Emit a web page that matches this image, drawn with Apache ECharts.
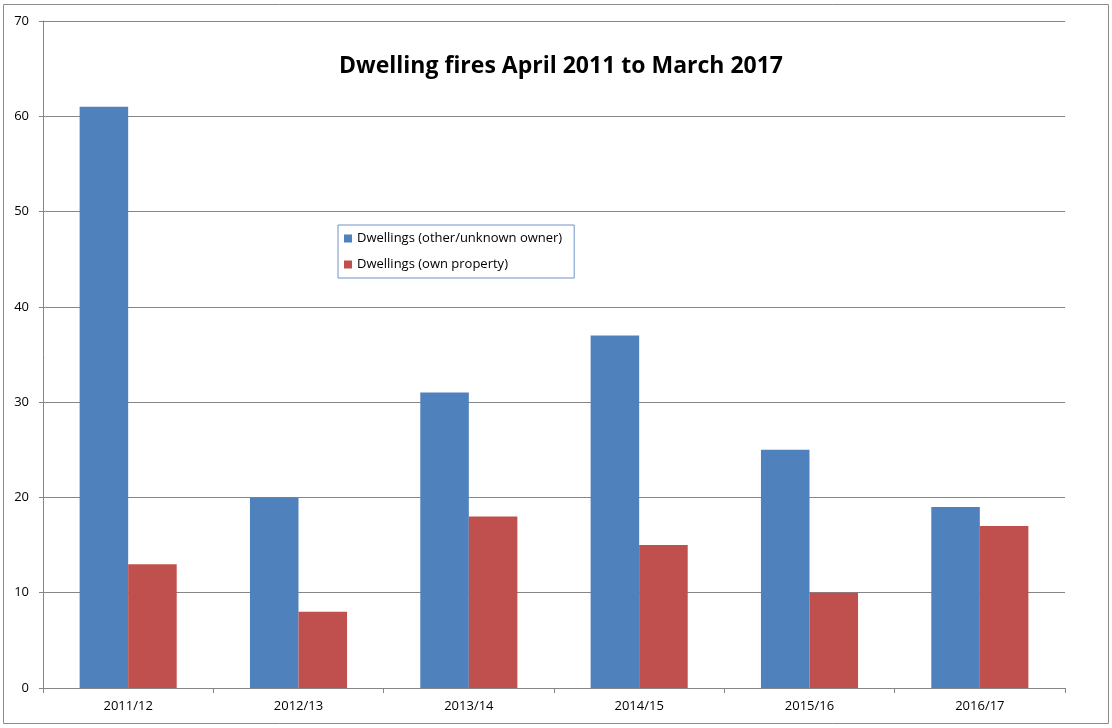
<!DOCTYPE html>
<html><head><meta charset="utf-8">
<script src="https://cdn.jsdelivr.net/npm/echarts@6/dist/echarts.min.js"></script>
<style>html,body{margin:0;padding:0;background:#fff}#c{width:1112px;height:728px}</style>
</head><body><div id="c"></div>
<script>
const categories = ['2011/12','2012/13','2013/14','2014/15','2015/16','2016/17'];
const otherOwner = [61, 20, 31, 37, 25, 19];
const ownProperty = [13, 8, 18, 15, 10, 17];
const seriesNames = ['Dwellings (other/unknown owner)', 'Dwellings (own property)'];
const titleText = 'Dwelling fires April 2011 to March 2017';

const font = '"Open Sans", "Liberation Sans", sans-serif';
const chart = echarts.init(document.getElementById('c'));
chart.setOption({
  animation: false,
  backgroundColor: '#fff',
  textStyle: { fontFamily: font },
  title: { text: titleText, left: 556, textAlign: 'center', top: 50,
    textStyle: { fontSize: 23, fontWeight: 'bold', color: '#000', fontFamily: font } },
  graphic: [{ type: 'rect', shape: { x: 3.5, y: 4.5, width: 1105, height: 719 },
    style: { fill: 'none', stroke: '#8c8c8c', lineWidth: 1 }, silent: true }],
  legend: { orient: 'vertical', left: 338, top: 225, width: 237,
    data: seriesNames, itemWidth: 8, itemHeight: 8, itemGap: 13,
    borderColor: '#6f93c6', borderWidth: 1, padding: [7, 12, 7, 6],
    icon: 'rect', textStyle: { fontSize: 13, color: '#000', fontFamily: font } },
  grid: { left: 43, right: 47, top: 21, bottom: 40, containLabel: false },
  xAxis: { type: 'category', data: categories,
    axisLine: { lineStyle: { color: '#868686' } },
    axisTick: { show: true, length: 5, lineStyle: { color: '#868686' } },
    axisLabel: { color: '#000', fontSize: 13, margin: 12, fontFamily: font } },
  yAxis: { type: 'value', min: 0, max: 70, interval: 10,
    axisLine: { show: true, lineStyle: { color: '#868686' } },
    axisTick: { show: true, length: 4, lineStyle: { color: '#868686' } },
    splitLine: { lineStyle: { color: '#868686' } },
    axisLabel: { color: '#000', fontSize: 13, margin: 14, fontFamily: font } },
  series: [
    { name: seriesNames[0], type: 'bar', data: otherOwner, barGap: '0%', barCategoryGap: '43%',
      itemStyle: { color: '#4F81BD' } },
    { name: seriesNames[1], type: 'bar', data: ownProperty,
      itemStyle: { color: '#C0504D' } }
  ]
});
</script></body></html>
